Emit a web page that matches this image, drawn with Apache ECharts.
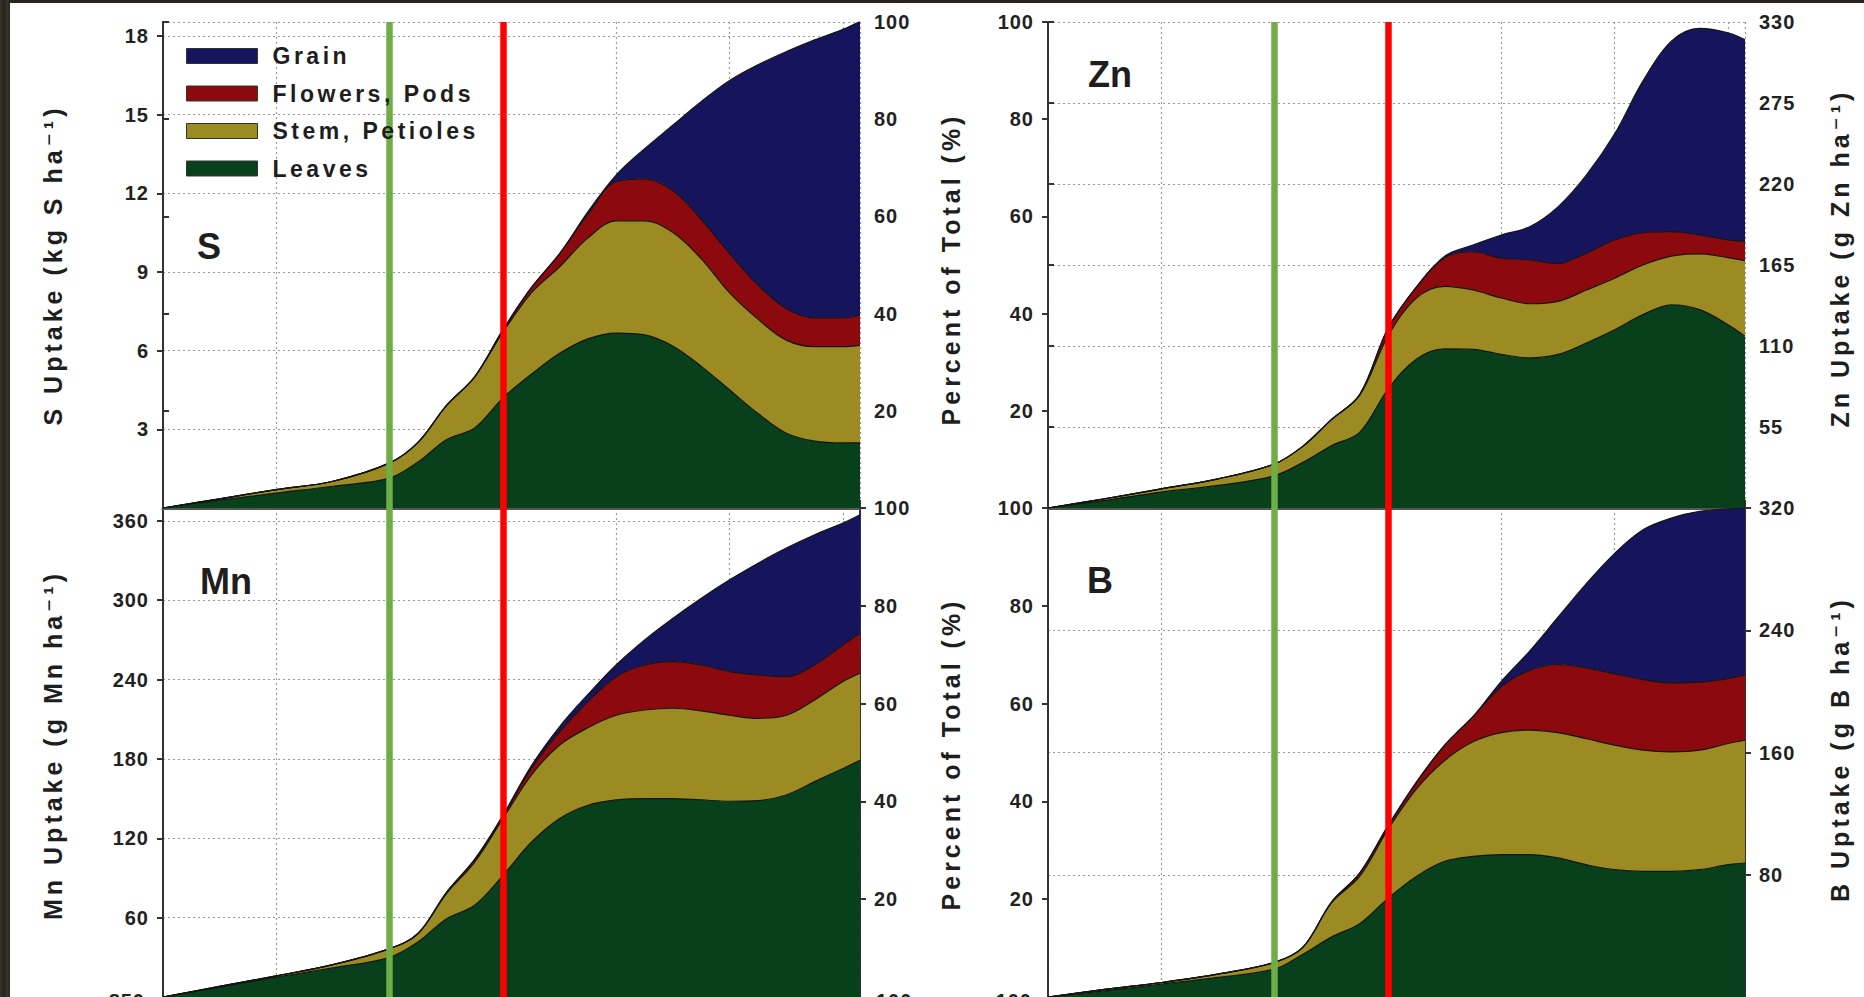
<!DOCTYPE html>
<html>
<head>
<meta charset="utf-8">
<script src="https://cdn.jsdelivr.net/npm/echarts/dist/echarts.min.js"></script>
<style>
  html, body { margin:0; padding:0; background:#2d2823; }
  #wrap { position:relative; width:1864px; height:997px; overflow:hidden;
          background: linear-gradient(90deg,#3a332c 0,#25211d 4px,#3b342d 7px,#2a2520 10px); }
  #paper { position:absolute; left:10px; top:3px; right:0; bottom:0; background:#ffffff; }
  #chart { position:absolute; left:0; top:0; width:1864px; height:997px; }
</style>
</head>
<body>
<div id="wrap"><div id="paper"></div><div id="chart"></div></div>
<script>
// ---- data (days after planting; tick labels are not shown in the picture) ----
const days = [0,10,20,30,40,45,50,55,60,65,70,75,80,85,90,95,100,105,110,115,120,123];
const legendNames = ['Grain','Flowers, Pods','Stem, Petioles','Leaves'];

// S uptake, kg S/ha per plant part
const sLeaves  = [0,0.3,0.57,0.83,1.14,1.75,2.6,3.05,4.2,5.1,5.9,6.45,6.67,6.6,6.17,5.4,4.5,3.6,2.85,2.55,2.48,2.48];
const sStem    = [0,0.05,0.13,0.19,0.58,0.75,1.3,1.95,2.5,3.1,3.3,3.85,4.28,4.35,4.33,4.1,3.7,3.6,3.55,3.6,3.67,3.72];
const sFlowers = [0,0,0,0,0,0,0,0,0.1,0.2,0.5,0.9,1.5,1.6,1.6,1.5,1.5,1.3,1.2,1.1,1.1,1.15];
const sGrain   = [0,0,0,0,0,0,0,0,0,0,0,0.1,0.25,1.15,2.5,4.5,6.6,8.4,9.8,10.6,11.0,11.2];

// Zn uptake, g Zn/ha
const zLeaves  = [0,5.2,10.8,15.3,22,31,42.3,51.4,80.6,101,108,107.7,104.3,102,104.3,112,121,131.3,138,134.7,124.5,116.7];
const zStem    = [0,1.1,2.2,4.5,8,11,17.7,25.1,36.1,41.5,42.5,40.3,38.3,36.7,36,36,35,33.7,33,37.8,45.5,51.3];
const zFlowers = [0,0,0,0,0,0,0,0.5,5.3,7.5,19.5,26,27,29.8,25.7,25,26,22,16.6,12.9,12,13];
const zGrain   = [0,0,0,0,0,0,0,0,0,0,1,4.6,15.8,22.5,38.5,53,72,103,129.4,140.3,140.7,137];

// Mn uptake, g Mn/ha
const mLeaves  = [0,7.5,15,22,30,41.6,59,69.4,92,117,135,145,149,150,150,149,148,148.5,152.7,162.8,172.8,179];
const mStem    = [0,0.5,1,2.5,6.6,6.4,19,32.6,43,50.8,55.5,58.6,64,67,68.3,67.3,65,62.2,60.3,61.8,65.7,65.8];
const mFlowers = [0,0,0,0,0,0,1,2,2,5,10,19.7,29.2,34,35.3,34.7,33,32.8,29.2,26.4,27.7,30.2];
const mGrain   = [0,0,0,0,0,0,0,0,0.5,2,4,5.5,9,19,32.8,50.5,69.4,84.5,97.2,98.5,92.1,89.6];

// B uptake, g B/ha
const bLeaves  = [0,4,8.4,12.8,18.3,28,39.2,48,64.5,78.9,88.8,92,93.2,93.2,91,86.6,83.3,82.2,82.2,83.3,86.6,87.7];
const bStem    = [0,1,1.1,2.2,4.4,4.6,22.3,30.9,45.2,57.1,66,75,79.8,81.5,82,82.4,81.5,79.3,78.2,78.2,79.3,80.3];
const bFlowers = [0,0,0,0,0,0,0.5,2.1,2.3,4.5,10,16.5,30,39,44.6,46.4,46.7,46.2,45.1,44.5,42.5,43];
const bGrain   = [0,0,0,0,0,0,0,0,0,0,0,0,3.6,12.7,30.9,55.1,78.8,98,107.9,111.8,111,109];

// growth stage markers (days)
const stageLines = [40, 60];

// axis ranges / ticks
const sAxis  = {max:18.53, interval:3};
const znAxis = {max:330, interval:55};
const mnAxis = {max:369.7, interval:60};
const bAxis  = {max:320, interval:80};
const pctAxis = {max:100, interval:20};

// ---- styling ----
const COL = {grain:'#17145e', flowers:'#8c0a0e', stem:'#9b8b22', leaves:'#08401c'};
const STAGE_COL = ['#6fad46', '#ff0000'];
const TICK_FONT = {color:'#222', fontSize:20, fontWeight:'bold', fontFamily:"'Liberation Sans', Arial, sans-serif"};
const AX_LINE = {show:true, lineStyle:{color:'#333', width:2}};
const DOT = {show:true, lineStyle:{color:'#9a9a9a', width:1.2, type:[2,3]}};

const grids = [
  {left:163, top:22, width:697, height:486, outerBoundsMode:'none'},
  {left:1048, top:22, width:697, height:486, outerBoundsMode:'none'},
  {left:163, top:508, width:697, height:489, outerBoundsMode:'none'},
  {left:1048, top:508, width:697, height:489, outerBoundsMode:'none'}
];

const xAxes = [];
for (let g = 0; g < 4; g++) {
  xAxes.push({type:'value', gridIndex:g, position:'bottom', min:0, max:123, interval:20,
    axisLine:AX_LINE, axisTick:{show:true, inside:true, length:8, lineStyle:{color:'#333', width:2}},
    axisLabel:{show:false}, splitLine:DOT});
}
// top frame lines of upper panels
for (let g = 0; g < 2; g++) {
  xAxes.push({type:'value', gridIndex:g, position:'top', min:0, max:123,
    axisLine:{show:true, lineStyle:{color:'#555', width:3}}, axisTick:{show:false},
    axisLabel:{show:false}, splitLine:{show:false}});
}

function yAx(g, pos, rng, split, showMax) {
  return {type:'value', gridIndex:g, position:pos, min:0, max:rng.max, interval:rng.interval,
    axisLine:AX_LINE, axisTick:{show:true, inside:false, length:6, lineStyle:{color:'#333', width:2}},
    axisLabel:Object.assign({margin:14, showMinLabel:false, showMaxLabel:showMax}, TICK_FONT),
    splitLine: split ? DOT : {show:false}};
}
const yAxes = [
  yAx(0,'left',sAxis,true,false),     // 0 S uptake
  yAx(0,'right',pctAxis,false,true),  // 1 percent
  yAx(1,'left',pctAxis,false,true),   // 2 percent
  yAx(1,'right',znAxis,true,true),    // 3 Zn uptake
  yAx(2,'left',mnAxis,true,false),    // 4 Mn uptake
  yAx(2,'right',pctAxis,false,true),  // 5 percent
  yAx(3,'left',pctAxis,false,true),   // 6 percent
  yAx(3,'right',bAxis,true,true)      // 7 B uptake
];

// value is put in the first dimension so that ECharts stacks the y values (by index)
function layer(name, vals, g, yi, color, withMarks) {
  const s = {type:'line', name, xAxisIndex:g, yAxisIndex:yi, stack:'st'+g, smooth:0.35,
    symbol:'none', animation:false,
    dimensions:['uptake','day'], encode:{x:1, y:0},
    data: days.map((d,i)=>[vals[i], d]),
    lineStyle:{color:'#141414', width:1.2}, itemStyle:{color}, areaStyle:{color, opacity:1}};
  if (withMarks) {
    s.markLine = {silent:true, symbol:['none','none'], label:{show:false}, animation:false,
      data: stageLines.map((d,k)=>({xAxis:d, lineStyle:{color:STAGE_COL[k], width:6.5, type:'solid'}}))};
  }
  return s;
}
const panels = [
  {g:0, yi:0, L:sLeaves, S:sStem, F:sFlowers, G:sGrain},
  {g:1, yi:3, L:zLeaves, S:zStem, F:zFlowers, G:zGrain},
  {g:2, yi:4, L:mLeaves, S:mStem, F:mFlowers, G:mGrain},
  {g:3, yi:7, L:bLeaves, S:bStem, F:bFlowers, G:bGrain}
];
const series = [];
panels.forEach(p => {
  series.push(layer('Leaves', p.L, p.g, p.yi, COL.leaves, false));
  series.push(layer('Stem, Petioles', p.S, p.g, p.yi, COL.stem, false));
  series.push(layer('Flowers, Pods', p.F, p.g, p.yi, COL.flowers, false));
  series.push(layer('Grain', p.G, p.g, p.yi, COL.grain, true));
});

const TITLE_FONT = "bold 25px 'Liberation Sans', 'DejaVu Sans', Arial, sans-serif";
function vtitle(text, x, y) {
  return {type:'text', x, y, rotation:Math.PI/2, z:10,
    style:{text, font:TITLE_FONT, fill:'#1e1e1e', align:'center', verticalAlign:'middle',
           textAlign:'center', textVerticalAlign:'middle'}};
}
function label(text, x, y, size, align) {
  return {type:'text', x, y, z:10,
    style:{text, font:"bold "+size+"px 'Liberation Sans', Arial, sans-serif", fill:'#1e1e1e',
           align:align, verticalAlign:'middle', textAlign:align, textVerticalAlign:'middle'}};
}

const option = {
  animation:false,
  backgroundColor:'transparent',
  grid:grids,
  xAxis:xAxes,
  yAxis:yAxes,
  legend:{show:true, orient:'vertical', left:181, top:39, itemWidth:71, itemHeight:15, itemGap:13.5,
    icon:'rect', selectedMode:false, z:20,
    textStyle:{color:'#1e1e1e', fontSize:23, fontWeight:'bold', lineHeight:24,
      fontFamily:"'Liberation Sans', Arial, sans-serif", padding:[0,0,0,10]},
    data: [
      {name:'Grain', itemStyle:{color:COL.grain, borderColor:'#333', borderWidth:1}},
      {name:'Flowers, Pods', itemStyle:{color:COL.flowers, borderColor:'#333', borderWidth:1}},
      {name:'Stem, Petioles', itemStyle:{color:COL.stem, borderColor:'#333', borderWidth:1}},
      {name:'Leaves', itemStyle:{color:COL.leaves, borderColor:'#333', borderWidth:1}}
    ]},
  graphic:[
    vtitle('S Uptake (kg S ha⁻¹)', 53, 265),
    vtitle('Mn Uptake (g Mn ha⁻¹)', 53, 745),
    vtitle('Percent of Total (%)', 951, 269),
    vtitle('Percent of Total (%)', 951, 754),
    vtitle('Zn Uptake (g Zn ha⁻¹)', 1840, 258),
    vtitle('B Uptake (g B ha⁻¹)', 1840, 749),
    label('S', 209, 246, 36, 'center'),
    label('Zn', 1110, 74, 36, 'center'),
    label('Mn', 226, 581, 36, 'center'),
    label('B', 1100, 580, 36, 'center'),
    label('850', 145, 1001, 20, 'right'),
    label('100', 876, 1001, 20, 'left'),
    label('100', 1032, 1001, 20, 'right')
  ],
  series
};

const chart = echarts.init(document.getElementById('chart'), null, {renderer:'svg'});
chart.setOption(option);

function spaceText() {
  document.querySelectorAll('#chart svg text').forEach(t => {
    const fs = parseFloat(getComputedStyle(t).fontSize);
    let ls = 0;
    if (fs >= 24.5 && fs < 26) ls = 4;
    else if (fs >= 22.5 && fs < 24) ls = 3.5;
    else if (fs >= 19.5 && fs < 21) ls = 1;
    if (ls) t.setAttribute('letter-spacing', ls);
  });
}
spaceText();
chart.on('finished', spaceText);
setTimeout(spaceText, 50);
</script>
</body>
</html>
